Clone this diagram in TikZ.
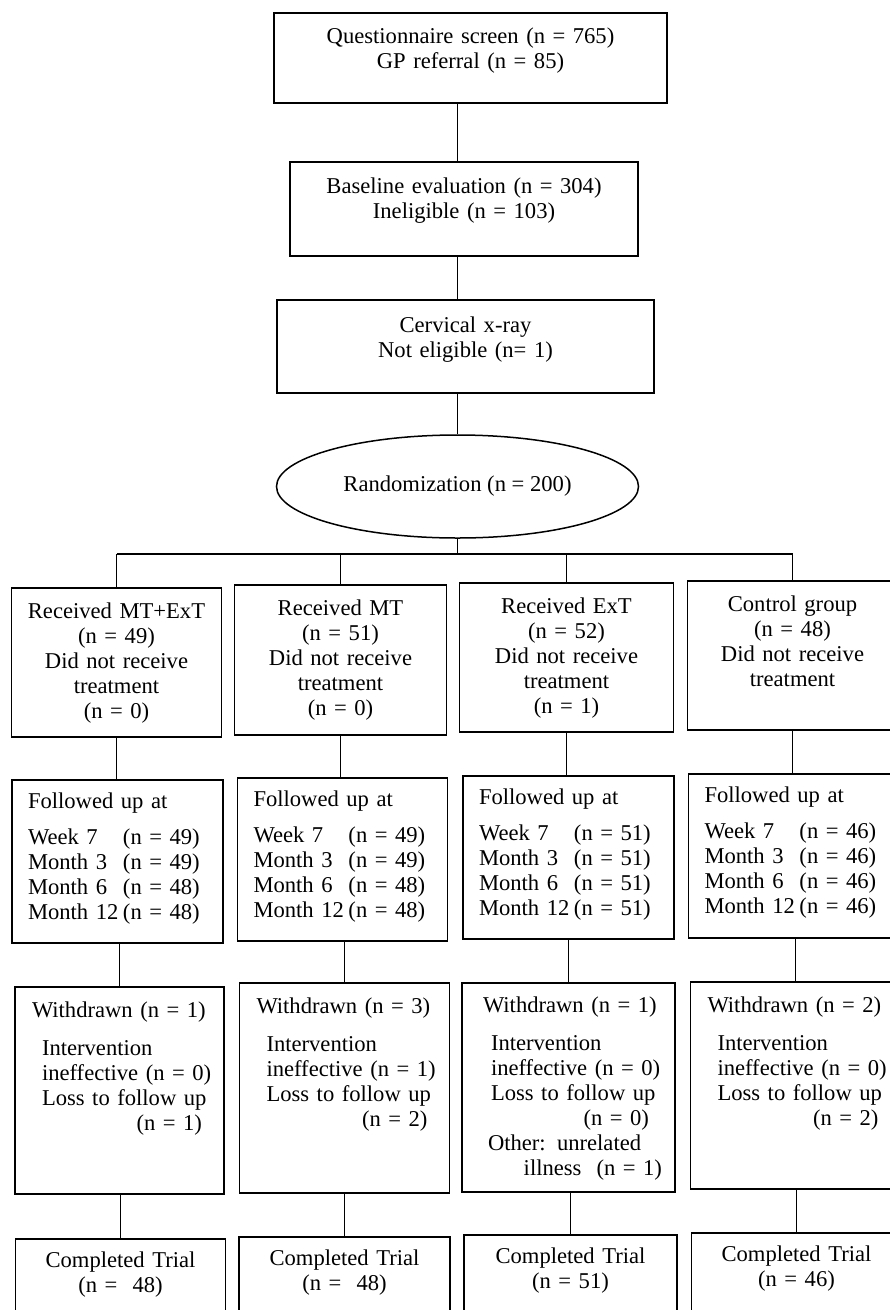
\documentclass[tikz,border=0pt]{standalone}
\usepackage{fontspec}
\setmainfont{Liberation Serif}
\usetikzlibrary{shapes.geometric}
\newcommand{\mlab}[1]{\makebox[95pt][l]{#1}}
\tikzset{
  every node/.style={font=\fontsize{22.6}{25}\selectfont},
  box/.style={draw, line width=1.6pt, inner ysep=0pt, inner xsep=8pt, align=center},
  leftbox/.style={draw, line width=1.6pt, inner ysep=0pt, inner xsep=6pt, align=left},
  link/.style={line width=1.5pt}
}
\begin{document}
\begin{tikzpicture}[x=1pt,y=-1pt]
\fill[white] (0,0) rectangle (890,1310);
\useasboundingbox (0,0) rectangle (890,1310);
% screening
\node[box, text width=377pt, text height=30pt, text depth=60pt] (qs) at (470.5,58) {Questionnaire screen (n = 765)\\GP referral (n = 85)};
\node[box, text width=332pt, text height=31pt, text depth=63pt] (be) at (464,209) {Baseline evaluation (n = 304)\\Ineligible (n = 103)};
\node[box, text width=361pt, text height=32pt, text depth=61pt] (cx) at (465.5,346.5) {Cervical x-ray\\Not eligible (n= 1)};
\node[draw, ellipse, line width=1.5pt, inner sep=0pt, minimum width=362pt, minimum height=103pt] (rz) at (457.5,486.5) {Randomization (n = 200)};
\coordinate (br) at (457.5,554);
% groups
\node[box, text width=194pt, text height=30pt, text depth=119pt] (ra) at (116.5,662.5) {Received MT+ExT\\(n = 49)\\Did not receive\\treatment\\(n = 0)};
\node[box, text width=196pt, text height=30pt, text depth=120pt] (rb) at (340.5,660) {Received MT\\(n = 51)\\Did not receive\\treatment\\(n = 0)};
\node[box, text width=198pt, text height=30pt, text depth=119pt] (rc) at (566.5,657.5) {Received ExT\\(n = 52)\\Did not receive\\treatment\\(n = 1)};
\node[box, text width=194pt, text height=30pt, text depth=119pt] (rd) at (792.5,655.5) {Control group\\(n = 48)\\Did not receive\\treatment};
% follow up
\node[leftbox, inner xsep=16pt, text width=179pt, text height=28pt, text depth=135pt] (fa) at (117.5,861.5) {Followed up at\\[11pt]\mlab{Week 7}(n = 49)\\\mlab{Month 3}(n = 49)\\\mlab{Month 6}(n = 48)\\\mlab{Month 12}(n = 48)};
\node[leftbox, inner xsep=16pt, text width=178pt, text height=28pt, text depth=135pt] (fb) at (342.5,859.5) {Followed up at\\[11pt]\mlab{Week 7}(n = 49)\\\mlab{Month 3}(n = 49)\\\mlab{Month 6}(n = 48)\\\mlab{Month 12}(n = 48)};
\node[leftbox, inner xsep=16pt, text width=179pt, text height=28pt, text depth=135pt] (fc) at (568.5,857.5) {Followed up at\\[11pt]\mlab{Week 7}(n = 51)\\\mlab{Month 3}(n = 51)\\\mlab{Month 6}(n = 51)\\\mlab{Month 12}(n = 51)};
\node[leftbox, inner xsep=16pt, text width=178pt, text height=28pt, text depth=136pt] (fd) at (793.5,856) {Followed up at\\[11pt]\mlab{Week 7}(n = 46)\\\mlab{Month 3}(n = 46)\\\mlab{Month 6}(n = 46)\\\mlab{Month 12}(n = 46)};
% withdrawn
\node[leftbox, text width=197pt, text height=30pt, text depth=177pt] (wa) at (119.5,1090.5) {\hspace*{11pt}Withdrawn (n = 1)\\[13pt]\hspace*{21pt}Intervention\\\hspace*{21pt}ineffective (n = 0)\\\hspace*{21pt}Loss to follow up\\\mbox{}\hfill(n = 1)\hspace*{16pt}\mbox{}};
\node[leftbox, text width=198pt, text height=30pt, text depth=180pt] (wb) at (344.5,1088) {\hspace*{11pt}Withdrawn (n = 3)\\[13pt]\hspace*{21pt}Intervention\\\hspace*{21pt}ineffective (n = 1)\\\hspace*{21pt}Loss to follow up\\\mbox{}\hfill(n = 2)\hspace*{16pt}\mbox{}};
\node[leftbox, text width=201pt, text height=29pt, text depth=180pt] (wc) at (568.5,1087.5) {\hspace*{15pt}Withdrawn (n = 1)\\[13pt]\hspace*{23pt}Intervention\\\hspace*{23pt}ineffective (n = 0)\\\hspace*{23pt}Loss to follow up\\\mbox{}\hfill(n = 0)\hspace*{20pt}\mbox{}\\\hspace*{20pt}Other: unrelated\\\mbox{}\hfill illness\ \ (n = 1)\hspace*{7pt}\mbox{}};
\node[leftbox, text width=198pt, text height=30pt, text depth=177pt] (wd) at (795.5,1085.5) {\hspace*{11pt}Withdrawn (n = 2)\\[13pt]\hspace*{21pt}Intervention\\\hspace*{21pt}ineffective (n = 0)\\\hspace*{21pt}Loss to follow up\\\mbox{}\hfill(n = 2)\hspace*{16pt}\mbox{}};
% completed
\node[box, text width=194pt, text height=28pt, text depth=63pt] (ca) at (120.5,1284.5) {Completed Trial\\(n = \ 48)};
\node[box, text width=195pt, text height=28pt, text depth=65pt] (cb) at (344.5,1283.5) {Completed Trial\\(n = \ 48)};
\node[box, text width=197pt, text height=28pt, text depth=67pt] (cc) at (570.5,1282.5) {Completed Trial\\(n = 51)};
\node[box, text width=194pt, text height=28pt, text depth=69pt] (cd) at (796.5,1281.5) {Completed Trial\\(n = 46)};
% links
\draw[link] (rz.north |- qs.south) -- (rz.north |- be.north);
\draw[link] (rz.north |- be.south) -- (rz.north |- cx.north);
\draw[link] (rz.north |- cx.south) -- (rz.north);
\draw[link] (rz.south) -- (br);
\draw[link] (ra.north |- br) -- (rd.north |- br);
\draw[link] (ra.north |- br) -- (ra.north);
\draw[link] (rb.north |- br) -- (rb.north);
\draw[link] (rc.north |- br) -- (rc.north);
\draw[link] (rd.north |- br) -- (rd.north);
\draw[link] (ra.south) -- (ra.south |- fa.north);
\draw[link] (rb.south) -- (rb.south |- fb.north);
\draw[link] (rc.south) -- (rc.south |- fc.north);
\draw[link] (rd.south) -- (rd.south |- fd.north);
\draw[link] (wa.north |- fa.south) -- (wa.north);
\draw[link] (wb.north |- fb.south) -- (wb.north);
\draw[link] (wc.north |- fc.south) -- (wc.north);
\draw[link] (wd.north |- fd.south) -- (wd.north);
\draw[link] (ca.north |- wa.south) -- (ca.north);
\draw[link] (cb.north |- wb.south) -- (cb.north);
\draw[link] (cc.north |- wc.south) -- (cc.north);
\draw[link] (cd.north |- wd.south) -- (cd.north);
\end{tikzpicture}
\end{document}
